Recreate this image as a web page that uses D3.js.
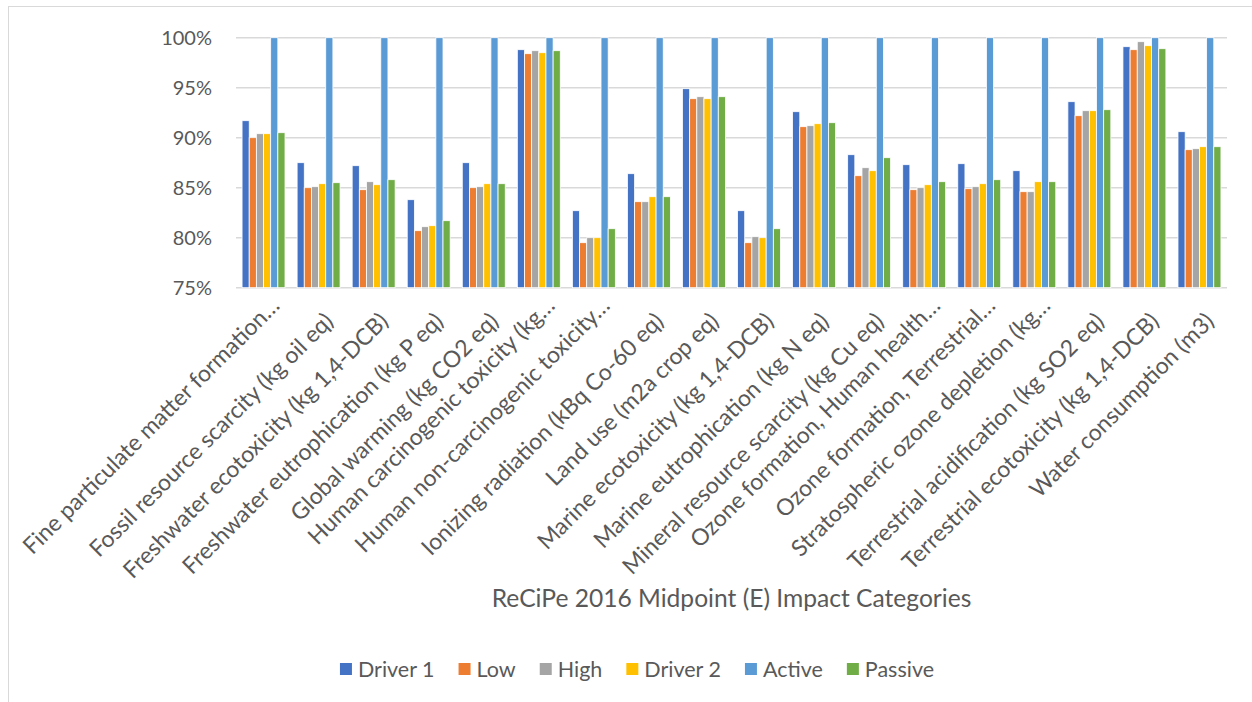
<!DOCTYPE html>
<html>
<head>
<meta charset="utf-8">
<script src="https://cdn.jsdelivr.net/npm/d3@7"></script>
<style>
  html, body { margin: 0; padding: 0; background: #ffffff; }
  svg { display: block; }
  text { font-family: Lato, "Open Sans", "DejaVu Sans", sans-serif; fill: #595959; }
</style>
</head>
<body>
<svg id="chart" width="1252" height="702"></svg>
<script>
// ReCiPe 2016 midpoint impact categories (axis labels as shown, long ones truncated)
const categories = [
  "Fine particulate matter formation\u2026",
  "Fossil resource scarcity (kg oil eq)",
  "Freshwater ecotoxicity (kg 1,4-DCB)",
  "Freshwater eutrophication (kg P eq)",
  "Global warming (kg CO2 eq)",
  "Human carcinogenic toxicity (kg\u2026",
  "Human non-carcinogenic toxicity\u2026",
  "Ionizing radiation (kBq Co-60 eq)",
  "Land use (m2a crop eq)",
  "Marine ecotoxicity (kg 1,4-DCB)",
  "Marine eutrophication (kg N eq)",
  "Mineral resource scarcity (kg Cu eq)",
  "Ozone formation, Human health\u2026",
  "Ozone formation, Terrestrial\u2026",
  "Stratospheric ozone depletion (kg\u2026",
  "Terrestrial acidification (kg SO2 eq)",
  "Terrestrial ecotoxicity (kg 1,4-DCB)",
  "Water consumption (m3)"
];

// Series values, percent relative to the Active scenario
const driver1 = [91.7, 87.5, 87.2, 83.8, 87.5, 98.8, 82.7, 86.4, 94.9, 82.7, 92.6, 88.3, 87.3, 87.4, 86.7, 93.6, 99.1, 90.6];
const low     = [90.0, 85.0, 84.8, 80.7, 85.0, 98.4, 79.5, 83.6, 93.9, 79.5, 91.1, 86.2, 84.8, 84.9, 84.6, 92.2, 98.8, 88.8];
const high    = [90.4, 85.1, 85.6, 81.1, 85.1, 98.7, 80.0, 83.6, 94.1, 80.1, 91.2, 87.0, 85.0, 85.1, 84.6, 92.7, 99.6, 88.9];
const driver2 = [90.4, 85.4, 85.3, 81.2, 85.4, 98.5, 80.0, 84.1, 93.9, 80.0, 91.4, 86.7, 85.3, 85.4, 85.6, 92.7, 99.2, 89.1];
const active  = [100, 100, 100, 100, 100, 100, 100, 100, 100, 100, 100, 100, 100, 100, 100, 100, 100, 100];
const passive = [90.5, 85.5, 85.8, 81.7, 85.4, 98.7, 80.9, 84.1, 94.1, 80.9, 91.5, 88.0, 85.6, 85.8, 85.6, 92.8, 98.9, 89.1];

const seriesNames = ["Driver 1", "Low", "High", "Driver 2", "Active", "Passive"];
const seriesValues = [driver1, low, high, driver2, active, passive];
const seriesColors = ["#4472C4", "#ED7D31", "#A5A5A5", "#FFC000", "#5B9BD5", "#70AD47"];

const yTicks = [75, 80, 85, 90, 95, 100];
const xAxisTitle = "ReCiPe 2016 Midpoint (E) Impact Categories";

const svg = d3.select("#chart");

// chart frame
svg.append("rect")
  .attr("x", 8.5).attr("y", 6.5)
  .attr("width", 1300).attr("height", 720)
  .attr("fill", "none").attr("stroke", "#D9D9D9").attr("stroke-width", 1);

const plot = { left: 236, right: 1227, top: 37.7, bottom: 287.7 };

const x = d3.scaleBand()
  .domain(categories)
  .range([plot.left, plot.right])
  .paddingInner(0.22)
  .paddingOuter(0.11);

const xs = d3.scaleBand()
  .domain(seriesNames)
  .range([0, x.bandwidth()]);

const y = d3.scaleLinear()
  .domain([75, 100])
  .range([plot.bottom, plot.top]);

// horizontal gridlines
svg.append("g")
  .selectAll("line")
  .data(yTicks)
  .join("line")
  .attr("x1", plot.left).attr("x2", plot.right)
  .attr("y1", d => y(d)).attr("y2", d => y(d))
  .attr("stroke", "#D9D9D9").attr("stroke-width", 1.5);

// y axis labels
const yAxis = d3.axisLeft(y).tickValues(yTicks).tickFormat(d => d + "%").tickSize(0).tickPadding(0);
const yg = svg.append("g").attr("transform", `translate(212,0)`).call(yAxis);
yg.select(".domain").remove();
yg.selectAll("text")
  .attr("font-size", 20)
  .attr("fill", "#595959")
  .attr("font-family", "Lato, sans-serif");

// bars
const rows = [];
categories.forEach((c, i) => {
  seriesNames.forEach((s, j) => {
    rows.push({ cat: c, series: s, value: seriesValues[j][i], color: seriesColors[j] });
  });
});

svg.append("g")
  .selectAll("rect")
  .data(rows)
  .join("rect")
  .attr("x", d => x(d.cat) + xs(d.series))
  .attr("y", d => y(d.value))
  .attr("width", xs.bandwidth())
  .attr("height", d => y(75) - y(d.value))
  .attr("fill", d => d.color)
  .attr("stroke", "#ffffff")
  .attr("stroke-width", 0.8);

// category labels, rotated; truncated labels sit a little further out
const xAxis = d3.axisBottom(x).tickSize(0).tickPadding(0);
const xg = svg.append("g").attr("transform", `translate(0,${plot.bottom})`).call(xAxis);
xg.select(".domain").remove();
xg.selectAll("text")
  .attr("font-size", 23)
  .attr("font-family", "Lato, sans-serif")
  .attr("fill", "#595959")
  .attr("text-anchor", "end")
  .attr("dy", null)
  .attr("y", 0)
  .attr("transform", d => d.endsWith("\u2026")
    ? "translate(16,35) rotate(-45) translate(12,-10)"
    : "translate(16,35) rotate(-45)");

// axis title
svg.append("text")
  .attr("x", (plot.left + plot.right) / 2)
  .attr("y", 607)
  .attr("text-anchor", "middle")
  .attr("font-size", 24.6)
  .text(xAxisTitle);

// legend
const legend = svg.append("g");
const items = legend.selectAll("g")
  .data(seriesNames.map((n, i) => ({ name: n, color: seriesColors[i] })))
  .join("g");
items.append("rect")
  .attr("width", 12).attr("height", 12)
  .attr("y", 663)
  .attr("fill", d => d.color);
items.append("text")
  .attr("x", 18)
  .attr("y", 676.5)
  .attr("font-size", 21.5)
  .text(d => d.name);

let widths = [];
items.each(function () {
  widths.push(d3.select(this).select("text").node().getComputedTextLength());
});
const gap = 24;
const total = widths.reduce((a, w) => a + 18 + w, 0) + gap * (widths.length - 1);
let cx = 637 - total / 2;
items.attr("transform", (d, i) => {
  const t = `translate(${cx},0)`;
  cx += 18 + widths[i] + gap;
  return t;
});
</script>
</body>
</html>
